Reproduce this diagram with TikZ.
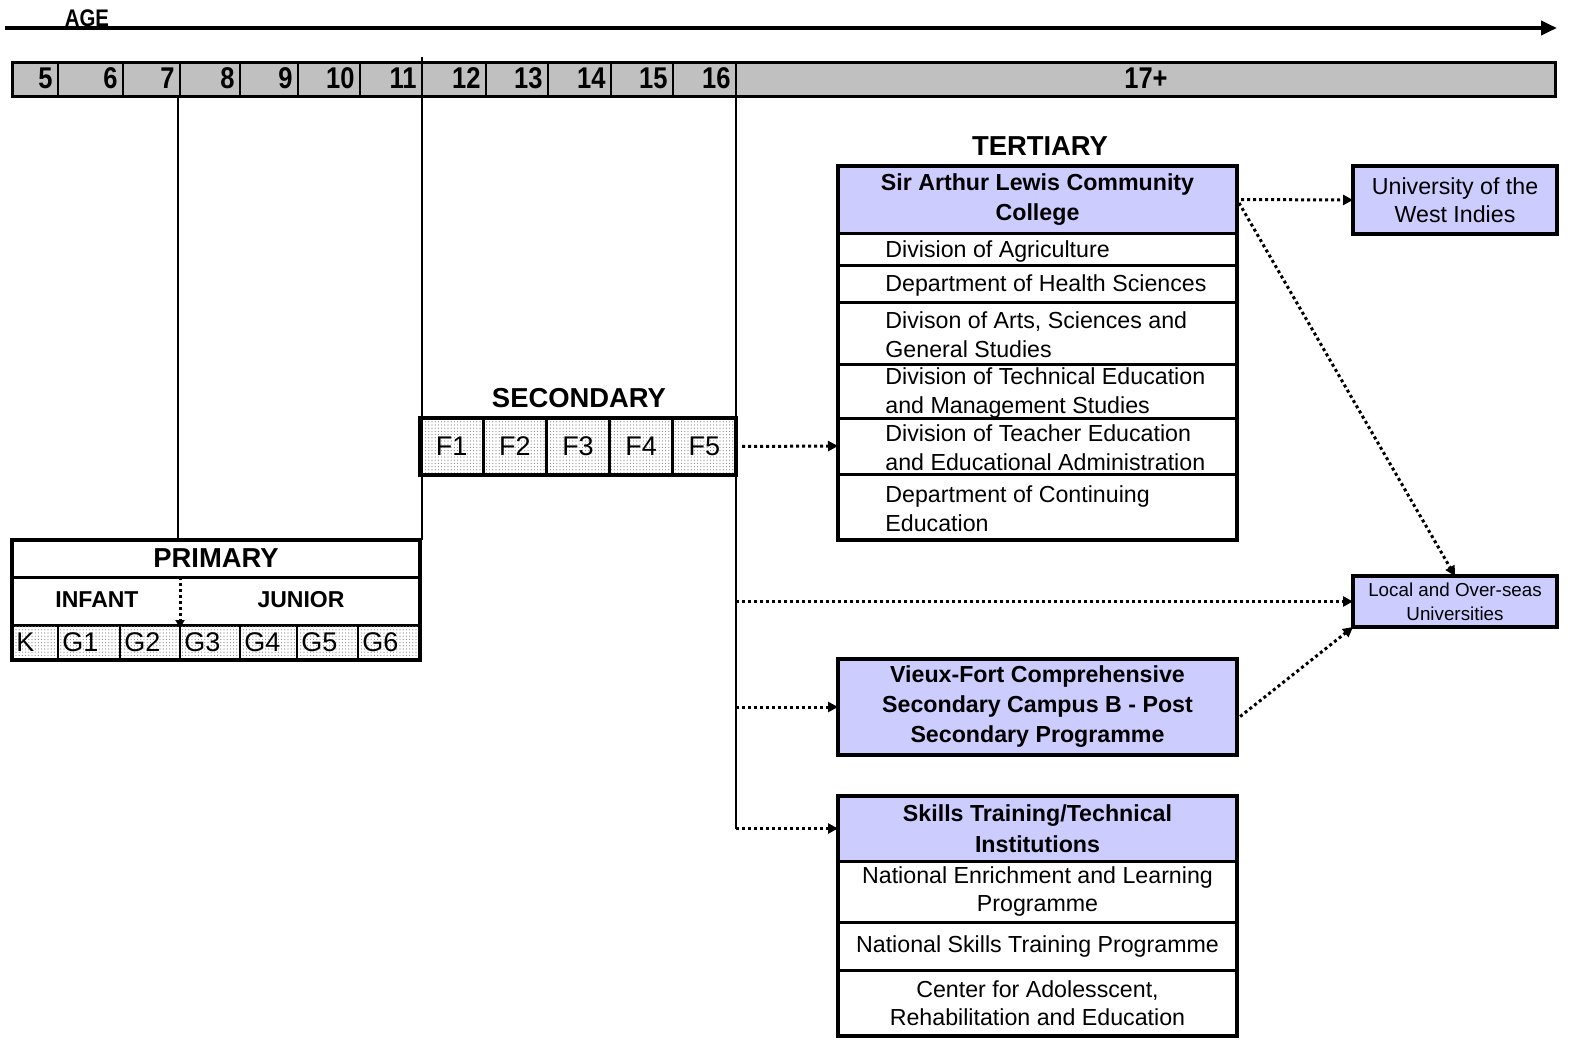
\documentclass[tikz,border=0pt]{standalone}
\usepackage{fontspec}
\setmainfont{Liberation Sans}
\newfontfamily\agefont{Liberation Sans}[FakeStretch=0.85]
\usetikzlibrary{positioning,fit,arrows.meta,patterns.meta}

\definecolor{lavender}{RGB}{204,204,255}
\definecolor{agegray}{RGB}{192,192,192}

\tikzset{
  box/.style={draw, rectangle, line width=1.5pt, inner sep=0pt, outer sep=0pt, align=center},
  unithead/.style={box, fill=lavender, minimum width=199.5pt, font=\fontsize{11.6}{15}\selectfont\bfseries},
  unitrow/.style={box, minimum width=199.5pt, font=\fontsize{11.6}{14.3}\selectfont},
  rowtext/.style={inner sep=0pt, align=left, yshift=-1pt, font=\fontsize{11.6}{14.3}\selectfont},
  uni/.style={box, fill=lavender, line width=2pt, minimum width=102pt},
  outerframe/.style={draw, line width=2pt, inner sep=0pt, outer sep=0pt, fit=#1},
  stagetitle/.style={inner sep=0pt, font=\fontsize{13.7}{16}\selectfont\bfseries},
  subtitle/.style={inner sep=0pt, font=\fontsize{11.5}{14}\selectfont\bfseries},
  agecell/.style={draw, fill=agegray, line width=1pt},
  agenum/.style={inner sep=0pt, anchor=east, font=\agefont\bfseries\fontsize{15}{15}\selectfont},
  dotcell/.style={draw, line width=1pt, pattern={Dots[distance=1.6pt, radius=0.3pt]}, pattern color=gray},
  gradetxt/.style={inner sep=0pt, anchor=west, font=\fontsize{13.5}{14}\selectfont},
  fcell/.style={box, dotcell, line width=1.5pt, minimum width=31.6pt, minimum height=28.5pt, font=\fontsize{13.5}{14}\selectfont},
  vline/.style={line width=1.4pt},
  flow/.style={line width=1.5pt, dash pattern=on 1.5pt off 1.5pt, -{Triangle[length=5pt, width=5pt]}},
}

\begin{document}
\begin{tikzpicture}[x=0.5pt, y=-0.5pt]
    \useasboundingbox (0,0) rectangle (1585,1049);

    % Age axis
    \coordinate (axis0) at (5,28);
    \coordinate (axis1) at (1557,28);
    \draw[line width=2pt, -{Triangle[length=8pt, width=7pt]}] (axis0) -- (axis1);
    \node[inner sep=0pt, anchor=south, font=\agefont\bfseries\fontsize{12}{12}\selectfont] (agelabel) at (87,27) {AGE};

    \foreach \a/\l/\r in {5/12/58, 6/58/123, 7/123/180, 8/180/240, 9/240/298, 10/298/360,
                          11/360/422, 12/422/486, 13/486/548, 14/548/611, 15/611/673, 16/673/736} {
      \draw[agecell] (\l,62) rectangle (\r,96);
      \node[agenum] (age\a) at (\r-5,78) {\a};
    }
    \draw[agecell] (736,62) rectangle (1555,96);
    \node[agenum, anchor=center] (age17) at (1146,78) {17+};
    \draw[line width=1.5pt] (12,62) rectangle (1555,96);

    \coordinate (b7) at (178,96);
    \coordinate (b11) at (422,57);
    \coordinate (b16) at (736,62);

    % Primary
    \node[box, minimum width=204pt, minimum height=18.5pt, font=\fontsize{13.7}{16}\selectfont\bfseries] (prim) at (216,558.5) {PRIMARY};
    \node[box, minimum width=204pt, minimum height=24pt] (stage) at (216,601) {};
    \node[subtitle] (infant) at (97,600) {INFANT};
    \node[subtitle] (junior) at (301,600) {JUNIOR};
    \foreach \g/\l/\r in {K/12/58, G1/58/120, G2/120/180, G3/180/240, G4/240/297, G5/297/358, G6/358/420} {
      \draw[dotcell] (\l,625) rectangle (\r,660);
      \node[gradetxt] (g\g) at (\l+4,642) {\g};
    }
    \draw[line width=2pt] (12,540) rectangle (420,660);
    \coordinate (split) at (180,628);
    \draw[line width=1.5pt, dash pattern=on 1.5pt off 1.5pt, -{Triangle[length=4pt, width=4.5pt]}] (split |- stage.north) -- (split);

    % Secondary
    \node[stagetitle] (sectitle) at (579,398) {SECONDARY};
    \foreach \i in {1,...,5} {
      \node[fcell] (f\i) at (420+63.2*\i-31.6,446.5) {F\i};
    }
    \node[outerframe={(f1)(f5)}] (sec) {};

    % Tertiary
    \node[stagetitle] (terttitle) at (1040,146) {TERTIARY};
    \node[unithead, minimum height=33.5pt] (alc) at (1037.5,199.5) {Sir Arthur Lewis Community\\College};
    \node[unitrow, minimum height=16pt, below=0pt of alc] (tagri) {};
    \node[unitrow, minimum height=18.5pt, below=0pt of tagri] (thealth) {};
    \node[unitrow, minimum height=31pt, below=0pt of thealth] (tarts) {};
    \node[unitrow, minimum height=27pt, below=0pt of tarts] (ttech) {};
    \node[unitrow, minimum height=28pt, below=0pt of ttech] (tteach) {};
    \node[unitrow, minimum height=33pt, below=0pt of tteach] (tcont) {};
    \node[outerframe={(alc)(tcont)}] (tert) {};

    \node[rowtext, right=23.5pt of tagri.west] (tagri-t) {Division of Agriculture};
    \node[rowtext, right=23.5pt of thealth.west] (thealth-t) {Department of Health Sciences};
    \node[rowtext, right=23.5pt of tarts.west] (tarts-t) {Divison of Arts, Sciences and\\General Studies};
    \node[rowtext, right=23.5pt of ttech.west] (ttech-t) {Division of Technical Education\\and Management Studies};
    \node[rowtext, right=23.5pt of tteach.west] (tteach-t) {Division of Teacher Education\\and Educational Administration};
    \node[rowtext, right=23.5pt of tcont.west] (tcont-t) {Department of Continuing\\Education};

    % Universities
    \node[uni, minimum height=34pt, font=\fontsize{11.6}{14}\selectfont] (uwi) at (1455,200) {University of the\\West Indies};
    \node[uni, minimum height=25.5pt, font=\fontsize{9.4}{12}\selectfont] (local) at (1455,601.5) {Local and Over-seas\\Universities};

    % Post secondary
    \node[unithead, line width=2pt, minimum height=48pt] (vfc) at (1037.5,707) {Vieux-Fort Comprehensive\\Secondary Campus B - Post\\Secondary Programme};

    \node[unithead, minimum height=32.5pt, font=\fontsize{11.6}{15.5}\selectfont\bfseries] (stti) at (1037.5,828.5) {Skills Training/Technical\\Institutions};
    \node[unitrow, minimum height=30.5pt, below=0pt of stti] (snelp) {National Enrichment and Learning\\Programme};
    \node[unitrow, minimum height=24pt, below=0pt of snelp] (snstp) {National Skills Training Programme};
    \node[unitrow, minimum height=33pt, below=0pt of snstp] (scare) {Center for Adolesscent,\\Rehabilitation and Education};
    \node[outerframe={(stti)(scare)}] (skills) {};

    % Draw the age lines down to the stages
    \draw[vline] (b7) -- (b7 |- prim.north);
    \draw[vline] (b11) -- (b11 |- prim.north);
    \draw[vline] (b16) -- (b16 |- stti.west);

    % Dotted paths between the stages
    \draw[flow, shorten <=3pt] (f5.east) -- (tteach.west);
    \draw[flow, shorten <=2pt] (alc.east) -- (uwi.west);
    \draw[flow, shorten <=2pt] (alc.east) -- (local.north);
    \draw[flow] (b16 |- local.west) -- (local.west);
    \draw[flow] (b16 |- vfc.west) -- (vfc.west);
    \draw[flow] (b16 |- stti.west) -- (stti.west);
    \draw[flow, shorten <=2pt] ([yshift=-6pt]vfc.east) -- (local.south west);
\end{tikzpicture}
\end{document}
